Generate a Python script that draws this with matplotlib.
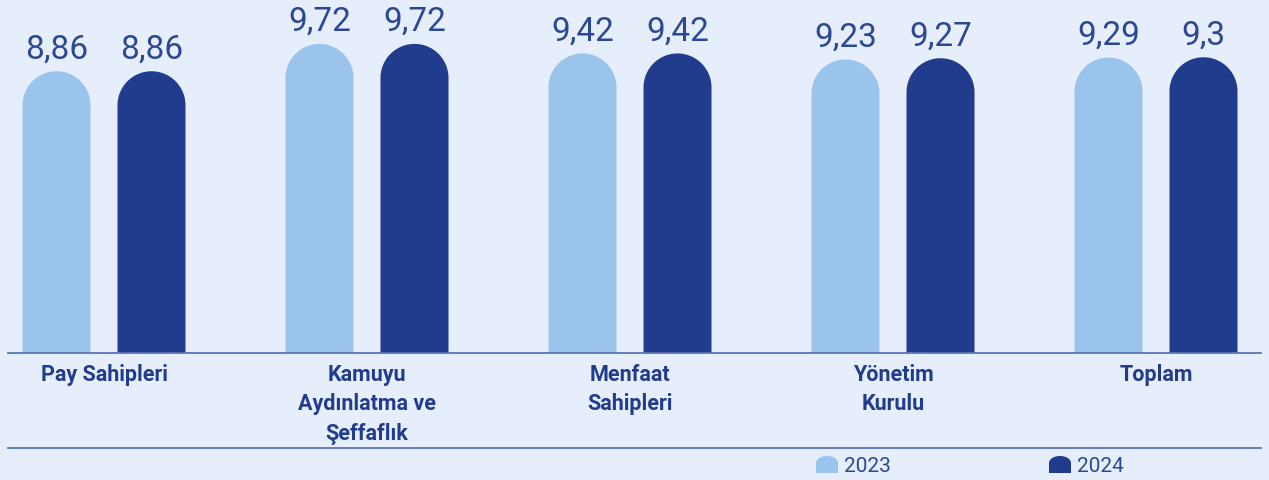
import matplotlib
matplotlib.use("Agg")
import matplotlib.pyplot as plt
from matplotlib.patches import Polygon
import numpy as np

categories = ["Pay Sahipleri", "Kamuyu\nAydınlatma ve\nŞeffaflık", "Menfaat\nSahipleri",
              "Yönetim\nKurulu", "Toplam"]
vals_2023 = [8.86, 9.72, 9.42, 9.23, 9.29]
vals_2024 = [8.86, 9.72, 9.42, 9.27, 9.3]
labels_2023 = ["8,86", "9,72", "9,42", "9,23", "9,29"]
labels_2024 = ["8,86", "9,72", "9,42", "9,27", "9,3"]
series = ["2023", "2024"]

BG = "#E6EEFC"
LIGHT = "#9BC4EC"
DARK = "#213C8C"
TXT = "#2A4894"
LINE = "#5B74B4"

W, H = 1269, 481
fig = plt.figure(figsize=(W / 100, H / 100), dpi=100)
fig.patch.set_facecolor(BG)

# axes placed in pixel terms: baseline at y=354, x from 8 to 1261
base_px = 354
px_per_unit = 31.8
ax = fig.add_axes([8 / W, (H - base_px) / H, (1261 - 8) / W, base_px / H])
ax.set_facecolor(BG)
spacing = 263.0
ax.set_xlim((8 - 104) / spacing, (1261 - 104) / spacing)
ax.set_ylim(0, base_px / px_per_unit)
ax.axis("off")

bar_w = 68 / spacing
off = 47.5 / spacing
r_y = 34 / px_per_unit  # radius of rounded top in y units

x = np.arange(len(categories))
t = np.linspace(np.pi, 0, 60)


def rounded_bar(axis, xc, val, color, hw, ry, y0=0):
    top = val - ry
    arc = np.column_stack([xc + hw * np.cos(t), top + ry * np.sin(t)])
    pts = np.vstack([[xc - hw, y0], arc, [xc + hw, y0]])
    axis.add_patch(Polygon(pts, closed=True, facecolor=color, edgecolor="none", lw=0))


for i in range(len(categories)):
    for xc, val, lab, col in [(x[i] - off, vals_2023[i], labels_2023[i], LIGHT),
                              (x[i] + off, vals_2024[i], labels_2024[i], DARK)]:
        rounded_bar(ax, xc, val, col, bar_w / 2, r_y)
        ax.annotate(lab, (xc, val), xytext=(0, 10), textcoords="offset points",
                    ha="center", va="baseline", fontsize=24, color=TXT,
                    family="Roboto")

# baseline and lower rule
fig.add_artist(plt.Line2D([8 / W, 1261 / W], [(H - 354) / H] * 2, color=LINE, lw=1.3))
fig.add_artist(plt.Line2D([8 / W, 1261 / W], [(H - 449) / H] * 2, color=LINE, lw=1.3))

# category labels
for i, cat in enumerate(categories):
    ax.annotate(cat, (x[i], 0), xytext=(0, -7), textcoords="offset points",
                ha="center", va="top", fontsize=15.5, fontweight="bold", color=DARK,
                family="Roboto", linespacing=1.45, annotation_clip=False)

# legend
leg_ax = fig.add_axes([0, 0, 1, 1], facecolor="none")
leg_ax.set_xlim(0, W)
leg_ax.set_ylim(0, H)
leg_ax.axis("off")
for x0, col, name in [(816, LIGHT, series[0]), (1049, DARK, series[1])]:
    rounded_bar(leg_ax, x0 + 11, H - 457, col, 11, 7, y0=H - 474)
    leg_ax.text(x0 + 28, H - 467, name, ha="left", va="center", fontsize=15, color=TXT,
                family="Roboto")

fig.savefig("out.png", dpi=100, facecolor=BG)
